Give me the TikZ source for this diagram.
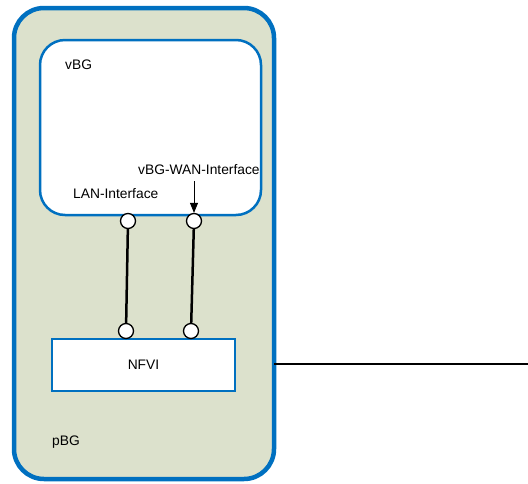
\documentclass[tikz,border=0pt]{standalone}
\usepackage{fontspec}
\setmainfont{Liberation Sans}
\usetikzlibrary{arrows.meta}
\definecolor{boxblue}{RGB}{0,112,192}
\definecolor{hostfill}{RGB}{220,225,204}
\tikzset{
  host/.style={draw=boxblue, line width=4.5pt, fill=hostfill, rounded corners=30pt},
  vm/.style={draw=boxblue, line width=2.5pt, fill=white, rounded corners=25pt},
  infra/.style={draw=boxblue, line width=2pt, fill=white},
  port/.style={circle, draw=black, line width=1.3pt, fill=white, minimum size=15pt, inner sep=0pt},
  link/.style={line width=2.5pt, black},
  lbl/.style={font=\fontsize{13.8}{16}\selectfont, inner sep=0pt}
}
\begin{document}
\begin{tikzpicture}[x=1pt, y=-1pt]
\useasboundingbox (0,0) rectangle (528,483);
% physical host and its contents
\draw[host] (14,8) rectangle (274,479);
\draw[vm] (40,40) rectangle (261,215);
\draw[infra] (52,339) rectangle (235,391);
\node[lbl] (nfvi) at (143.5,365) {NFVI};
\node[lbl, anchor=west] (vbg) at (65,65) {vBG};
\node[lbl, anchor=west] (pbg) at (52,442) {pBG};
\node[lbl, anchor=west] (lan) at (73,194) {LAN-Interface};
\node[lbl, anchor=west] (wan) at (138,170) {vBG-WAN-Interface};
% interface ports
\node[port] (lanTop) at (128,221) {};
\node[port] (wanTop) at (194,221) {};
\node[port] (lanBot) at (126,331) {};
\node[port] (wanBot) at (191,331) {};
\draw[link] (lanTop) -- (lanBot);
\draw[link] (wanTop) -- (wanBot);
\draw[-{Triangle[length=10pt,width=8pt]}, line width=0.9pt] (194,181) -- (wanTop);
% uplink
\coordinate (hostEdge) at (274,364);
\coordinate (ext) at (528,364);
\draw[line width=2pt] (hostEdge) -- (ext);
\end{tikzpicture}
\end{document}
